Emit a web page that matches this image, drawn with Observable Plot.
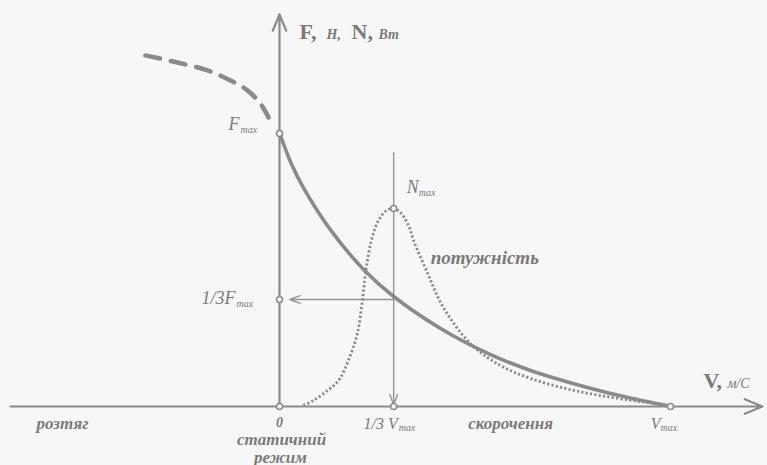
<!DOCTYPE html>
<html>
<head>
<meta charset="utf-8">
<script src="https://cdn.jsdelivr.net/npm/d3@7"></script>
<script src="https://cdn.jsdelivr.net/npm/@observablehq/plot@0.6"></script>
<style>
  html, body { margin: 0; padding: 0; background: #f7f7f7; }
  #chart svg { display: block; background: #f7f7f7; }
</style>
</head>
<body>
<div id="chart"></div>
<script>
// ---- Key values (V as fraction of Vmax, F/N as fraction of Fmax) ----
const V_ZERO = 0, V_THIRD = 0.292, V_MAX = 1;
const F_MAX = 1, F_THIRD = 0.392, N_MAX = 0.725;

// Force–velocity curve (solid)
const forceV = [0.003, 0.03, 0.061, 0.13, 0.215, 0.292, 0.412, 0.54, 0.642, 0.737, 0.872, 1.0];
const forceF = [0.99, 0.89, 0.802, 0.648, 0.502, 0.403, 0.286, 0.19, 0.132, 0.09, 0.039, 0.0];

// Power curve (dotted)
const powerV = [0.061, 0.087, 0.123, 0.151, 0.176, 0.199, 0.212, 0.221, 0.235, 0.253, 0.274, 0.292, 0.309, 0.33, 0.343, 0.379, 0.419, 0.488, 0.565, 0.642, 0.731, 0.821, 0.923, 0.987];
const powerN = [0.004, 0.022, 0.059, 0.095, 0.168, 0.267, 0.388, 0.498, 0.608, 0.681, 0.718, 0.725, 0.711, 0.663, 0.608, 0.487, 0.363, 0.231, 0.15, 0.103, 0.066, 0.04, 0.018, 0.007];

// Eccentric (lengthening) extension (dashed)
const extV = [-0.343, -0.261, -0.184, -0.125, -0.082, -0.049, -0.028];
const extF = [1.286, 1.26, 1.231, 1.194, 1.158, 1.11, 1.059];

// Axis extents
const X_AXIS_FROM = -0.688, X_AXIS_TO = 1.235, Y_AXIS_TO = 1.436;
const ARROW_TOP = 0.93;

// Region labels
const regionNames = ["розтяг", "скорочення"];
const regionV = [-0.555, 0.591];

// ---- build tables ----
const force = forceV.map((v, i) => ({v, f: forceF[i]}));
const power = powerV.map((v, i) => ({v, f: powerN[i]}));
const ext = extV.map((v, i) => ({v, f: extF[i]}));
const markers = [
  {v: V_ZERO, f: 0}, {v: V_ZERO, f: F_MAX}, {v: V_ZERO, f: F_THIRD},
  {v: V_THIRD, f: 0}, {v: V_MAX, f: 0}, {v: V_THIRD, f: N_MAX}
];
const regions = regionNames.map((t, i) => ({t, v: regionV[i], f: 0}));

// layout (pixels)
const W = 767, H = 465, ORIGIN_X = 279, ORIGIN_Y = 406, PX_V = 391, PX_F = 273;

const INK = "#8a8a8a";
const TXT = "#7a7a7a";
const serif = "'Liberation Serif', 'Times New Roman', serif";

function label(x, y, text, o = {}) {
  return Plot.text([{x, y, text}], {
    x: "x", y: "y", text: "text",
    fill: TXT, fontFamily: serif,
    fontStyle: o.upright ? "normal" : "italic",
    fontWeight: o.weight || "bold",
    fontSize: o.size || 16,
    textAnchor: o.anchor || "start",
    lineAnchor: "bottom",
    dx: o.dx || 0, dy: o.dy || 0
  });
}

const chart = Plot.plot({
  width: W, height: H,
  marginTop: 0, marginRight: 0, marginBottom: 0, marginLeft: 0,
  x: {domain: [-ORIGIN_X / PX_V, (W - ORIGIN_X) / PX_V], axis: null},
  y: {domain: [-(H - ORIGIN_Y) / PX_F, ORIGIN_Y / PX_F], axis: null},
  style: {background: "#f7f7f7", fontFamily: serif},
  marks: [
    // axes
    Plot.arrow([{x1: X_AXIS_FROM, y1: 0, x2: X_AXIS_TO, y2: 0}],
      {x1: "x1", y1: "y1", x2: "x2", y2: "y2", stroke: INK, strokeWidth: 2.2, headLength: 13, headAngle: 45}),
    Plot.arrow([{x1: 0, y1: 0, x2: 0, y2: Y_AXIS_TO}],
      {x1: "x1", y1: "y1", x2: "x2", y2: "y2", stroke: INK, strokeWidth: 2.2, headLength: 12, headAngle: 45}),
    // helper arrows
    Plot.arrow([{x1: V_THIRD, y1: ARROW_TOP, x2: V_THIRD, y2: 0.005}],
      {x1: "x1", y1: "y1", x2: "x2", y2: "y2", stroke: "#959595", strokeWidth: 1.4, headLength: 12, headAngle: 40}),
    Plot.arrow([{x1: V_THIRD, y1: F_THIRD, x2: 0.026, y2: F_THIRD}],
      {x1: "x1", y1: "y1", x2: "x2", y2: "y2", stroke: "#959595", strokeWidth: 1.4, headLength: 12, headAngle: 40}),
    // curves
    Plot.line(ext, {x: "v", y: "f", stroke: INK, strokeWidth: 4.5, strokeDasharray: "15 11", curve: "catmull-rom"}),
    Plot.line(power, {x: "v", y: "f", stroke: "#8a8a8a", strokeWidth: 2.8, strokeDasharray: "2.2 2.2", strokeLinecap: "butt", curve: "catmull-rom"}),
    Plot.line(force, {x: "v", y: "f", stroke: INK, strokeWidth: 3.6, curve: "catmull-rom"}),
    // markers
    Plot.dot(markers, {x: "v", y: "f", r: 3, fill: "#f7f7f7", stroke: INK, strokeWidth: 1.5}),

    // axis titles
    label(0, Y_AXIS_TO, "F,", {upright: true, size: 22, dx: 20, dy: 25}),
    label(0, Y_AXIS_TO, "Н,", {size: 14, dx: 47, dy: 25}),
    label(0, Y_AXIS_TO, "N,", {upright: true, size: 22, dx: 72, dy: 25}),
    label(0, Y_AXIS_TO, "Вт", {size: 14, dx: 99, dy: 25}),
    label(X_AXIS_TO, 0, "V,", {upright: true, size: 22, dx: -59, dy: -19}),
    label(X_AXIS_TO, 0, "м/С", {size: 14, weight: "normal", dx: -35, dy: -19}),

    // F labels
    label(0, F_MAX, "F", {size: 18, weight: "normal", anchor: "end", dx: -40, dy: -4}),
    label(0, F_MAX, "max", {size: 10, weight: "normal", dx: -39, dy: -1}),
    label(0, F_THIRD, "1/3F", {size: 18, weight: "normal", anchor: "end", dx: -44, dy: 5}),
    label(0, F_THIRD, "max", {size: 10, weight: "normal", dx: -43, dy: 8}),
    // N labels
    label(V_THIRD, N_MAX, "N", {size: 18, weight: "normal", anchor: "end", dx: 25, dy: -16}),
    label(V_THIRD, N_MAX, "max", {size: 10, weight: "normal", dx: 25, dy: -13}),
    label(V_THIRD, N_MAX, "потужність", {size: 19, dx: 37, dy: 55}),

    // V labels
    label(V_ZERO, 0, "0", {size: 14, anchor: "middle", dy: 20}),
    label(V_ZERO, 0, "статичний", {size: 17, anchor: "middle", dx: 2, dy: 38}),
    label(V_ZERO, 0, "режим", {size: 17, anchor: "middle", dx: 1, dy: 56}),
    label(V_THIRD, 0, "1/3 V", {size: 16, weight: "normal", anchor: "end", dx: 4, dy: 22}),
    label(V_THIRD, 0, "max", {size: 10, weight: "normal", dx: 5, dy: 24}),
    label(V_MAX, 0, "V", {size: 16, weight: "normal", anchor: "end", dx: -10, dy: 22}),
    label(V_MAX, 0, "max", {size: 10, weight: "normal", dx: -10, dy: 24}),
    Plot.text(regions, {x: "v", y: "f", text: "t", fill: TXT, fontFamily: serif, fontStyle: "italic",
      fontWeight: "bold", fontSize: 17, textAnchor: "middle", lineAnchor: "bottom", dy: 22})
  ]
});
document.getElementById("chart").append(chart);
</script>
</body>
</html>
